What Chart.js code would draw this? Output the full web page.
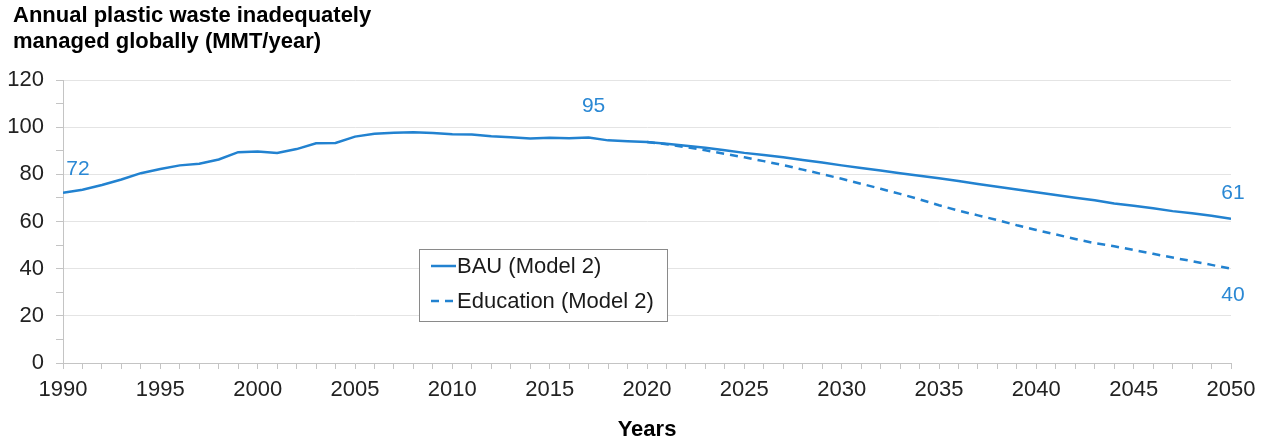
<!DOCTYPE html>
<html>
<head>
<meta charset="utf-8">
<script src="https://cdn.jsdelivr.net/npm/chart.js@4/dist/chart.umd.min.js"></script>
<style>
  html, body { margin: 0; padding: 0; background: #fff; }
  #wrap { width: 1270px; height: 444px; position: relative; }
</style>
</head>
<body>
<div id="wrap"><canvas id="c" width="1270" height="444"></canvas></div>
<script>
// ---- Data ----
const titleLines = ['Annual plastic waste inadequately', 'managed globally (MMT/year)'];
const xAxisTitle = 'Years';
const seriesNames = ['BAU (Model 2)', 'Education (Model 2)'];

const years = [];
for (let y = 1990; y <= 2050; y++) years.push(y);

const bauValues = [
  72.2, 73.5, 75.5, 77.8, 80.5, 82.3, 83.8, 84.5, 86.3, 89.4,   // 1990-1999
  89.7, 89.1, 90.7, 93.2, 93.3, 96.0, 97.2, 97.6, 97.8, 97.5,   // 2000-2009
  97.0, 96.9, 96.1, 95.7, 95.2, 95.5, 95.3, 95.6, 94.4, 94.0,   // 2010-2019
  93.7, 93.0, 92.1, 91.3, 90.2, 89.1, 88.2, 87.2, 86.1, 85.0,   // 2020-2029
  83.8, 82.7, 81.6, 80.5, 79.4, 78.3, 77.2, 75.9, 74.7, 73.6,   // 2030-2039
  72.4, 71.2, 70.1, 69.0, 67.6, 66.7, 65.6, 64.4, 63.5, 62.4,   // 2040-2049
  61.2                                                          // 2050
];

const educationYears = [];
for (let y = 2020; y <= 2050; y++) educationYears.push(y);
const educationValues = [
  93.7, 92.8, 91.5, 90.2, 88.7, 87.2, 85.6, 83.9, 82.0, 80.1,   // 2020-2029
  78.1, 76.0, 73.9, 71.7, 69.4, 66.9, 64.6, 62.6, 60.6, 58.4,   // 2030-2039
  56.4, 54.5, 52.6, 50.8, 49.5, 47.9, 46.3, 44.7, 43.2, 41.6,   // 2040-2049
  40.0                                                          // 2050
];

const xMin = 1990, xMax = 2050, xLabelStep = 5;
const yMin = 0, yMax = 120, yLabelStep = 20, yMinorStep = 10;

// Value annotations shown on the chart
const noteTexts  = ['72', '95', '61', '40'];
const noteYears  = [1990, 2017, 2050, 2050];
const noteSeries = [0, 0, 0, 1];

// ---- Styles ----
const BLUE = '#2282d0';
const LABEL_BLUE = '#2a88d4';
const FONT = "'Liberation Sans', Arial, Helvetica, sans-serif";
const AXIS_GREY = '#c4c4c4';
const GRID_GREY = '#e4e4e4';

const bauPoints = years.map((x, i) => ({x, y: bauValues[i]}));
const eduPoints = educationYears.map((x, i) => ({x, y: educationValues[i]}));

// Offsets for the annotations (pixels), kept with the drawing code
const noteStyle = [
  {dx: 15, dy: -24},
  {dx: 5, dy: -31},
  {dx: 2, dy: -25},
  {dx: 2, dy: 27}
];

const annotationsPlugin = {
  id: 'annotations',
  afterDatasetsDraw(chart) {
    const ctx = chart.ctx;
    const xs = chart.scales.x, ys = chart.scales.y;
    ctx.save();
    ctx.font = '21px ' + FONT;
    ctx.fillStyle = LABEL_BLUE;
    ctx.textAlign = 'center';
    ctx.textBaseline = 'middle';
    noteTexts.forEach((t, i) => {
      const ds = chart.data.datasets[noteSeries[i]].data;
      const pt = ds.find(p => p.x === noteYears[i]);
      const px = xs.getPixelForValue(pt.x) + noteStyle[i].dx;
      const py = ys.getPixelForValue(pt.y) + noteStyle[i].dy;
      ctx.fillText(t, px, py);
    });
    ctx.restore();
  }
};

const titleLegendPlugin = {
  id: 'titleLegend',
  afterDraw(chart) {
    const ctx = chart.ctx;
    ctx.save();
    // Title
    ctx.font = 'bold 22px ' + FONT;
    ctx.fillStyle = '#000';
    ctx.textAlign = 'left';
    ctx.textBaseline = 'alphabetic';
    titleLines.forEach((line, i) => ctx.fillText(line, 13, 22 + i * 26));

    // Legend box
    const bx = 419.5, by = 249.5, bw = 248, bh = 72;
    ctx.fillStyle = '#fff';
    ctx.fillRect(bx, by, bw, bh);
    ctx.strokeStyle = '#8a8a8a';
    ctx.lineWidth = 1;
    ctx.strokeRect(bx, by, bw, bh);
    const rows = [266, 301];
    chart.data.datasets.forEach((ds, i) => {
      ctx.beginPath();
      ctx.strokeStyle = ds.borderColor;
      ctx.lineWidth = 2.5;
      ctx.setLineDash(ds.borderDash || []);
      ctx.moveTo(431, rows[i]);
      ctx.lineTo(456, rows[i]);
      ctx.stroke();
      ctx.setLineDash([]);
      ctx.font = '22px ' + FONT;
      ctx.fillStyle = '#1a1a1a';
      ctx.textBaseline = 'middle';
      ctx.textAlign = 'left';
      ctx.fillText(ds.label, 457, rows[i] + 1);
    });
    ctx.restore();
  }
};

new Chart(document.getElementById('c'), {
  type: 'line',
  data: {
    datasets: [
      {
        label: seriesNames[0],
        data: bauPoints,
        borderColor: BLUE,
        borderWidth: 2.5,
        pointRadius: 0,
        tension: 0,
        fill: false
      },
      {
        label: seriesNames[1],
        data: eduPoints,
        borderColor: BLUE,
        borderWidth: 2.5,
        borderDash: [8, 6],
        pointRadius: 0,
        tension: 0,
        fill: false
      }
    ]
  },
  options: {
    responsive: false,
    animation: false,
    devicePixelRatio: 1,
    layout: { padding: { top: 80, right: 39, left: 0, bottom: 0 } },
    plugins: {
      legend: { display: false },
      title: { display: false },
      tooltip: { enabled: false }
    },
    scales: {
      x: {
        type: 'linear',
        min: xMin,
        max: xMax,
        afterFit(scale) { scale.height = 81; },
        ticks: {
          stepSize: 1,
          autoSkip: false,
          maxRotation: 0,
          minRotation: 0,
          padding: 8,
          color: '#222',
          font: { size: 22, family: FONT },
          callback: v => (v % xLabelStep === 0 ? String(v) : '')
        },
        grid: {
          drawOnChartArea: false,
          drawTicks: true,
          tickLength: 6,
          tickColor: AXIS_GREY
        },
        border: { color: AXIS_GREY, width: 1 },
        title: {
          display: true,
          text: xAxisTitle,
          color: '#000',
          font: { size: 22, weight: 'bold', family: FONT },
          padding: { top: 0, bottom: 1 }
        }
      },
      y: {
        min: yMin,
        max: yMax,
        afterFit(scale) { scale.width = 63; },
        ticks: {
          stepSize: yMinorStep,
          autoSkip: false,
          padding: 12,
          color: '#222',
          font: { size: 22, family: FONT },
          callback: v => (v % yLabelStep === 0 ? String(v) : '')
        },
        grid: {
          color: c => (c.tick && c.tick.value % yLabelStep === 0 && c.tick.value !== 0 ? GRID_GREY : 'rgba(0,0,0,0)'),
          tickColor: AXIS_GREY,
          tickLength: 7,
          lineWidth: 1
        },
        border: { color: AXIS_GREY, width: 1 }
      }
    }
  },
  plugins: [annotationsPlugin, titleLegendPlugin]
});
</script>
</body>
</html>
